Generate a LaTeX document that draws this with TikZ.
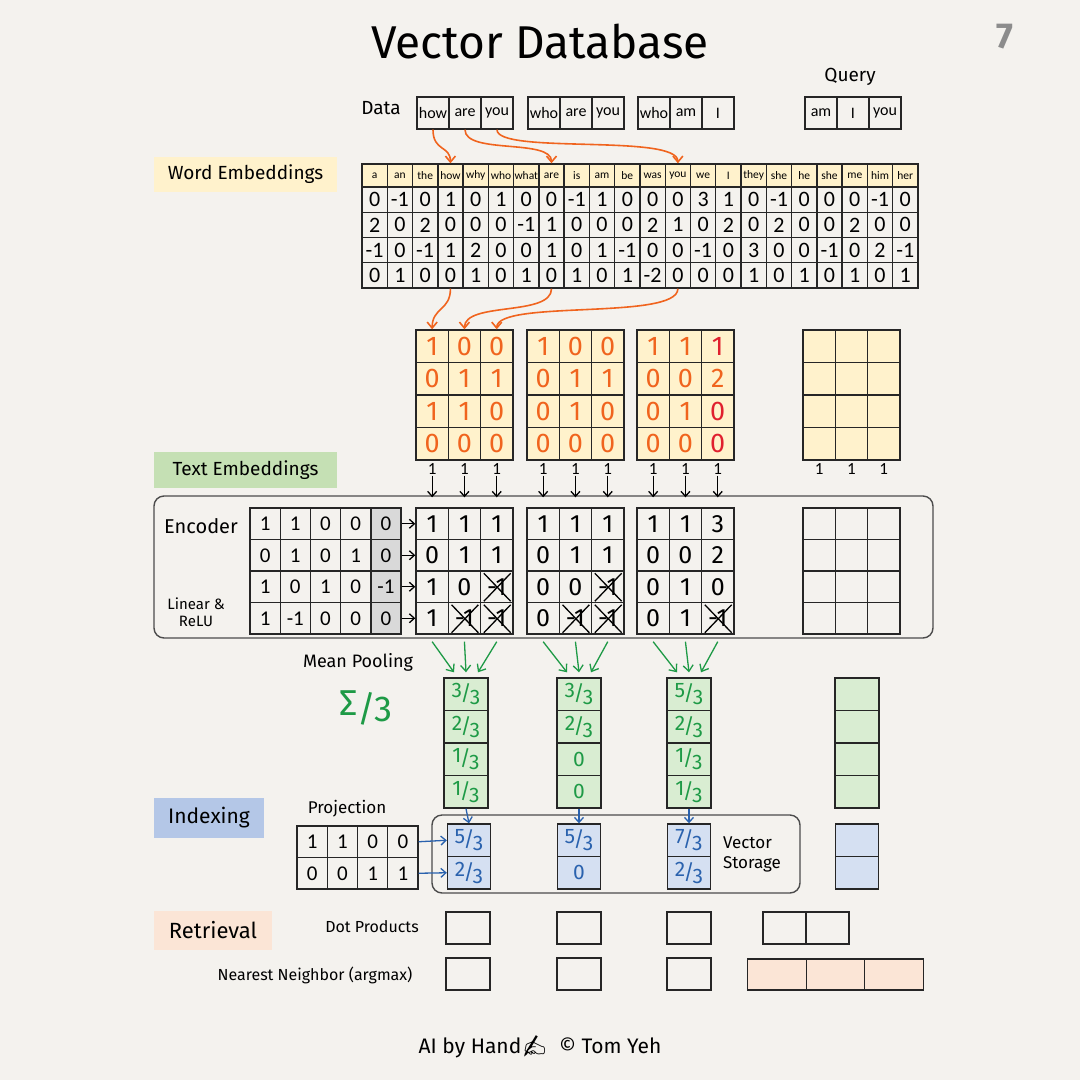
\documentclass[tikz,border=0pt]{standalone}
\usepackage{fontspec}
\setmainfont{Carlito}
\newfontfamily\hand{Fira Sans}
\newfontfamily\emoji{Noto Emoji}
\usetikzlibrary{arrows.meta, positioning, calc}

\definecolor{paper}{HTML}{F4F2EE}
\definecolor{wordyel}{HTML}{FFF2CC}
\definecolor{textgrn}{HTML}{C5E0B4}
\definecolor{poolgrn}{HTML}{D9EDD2}
\definecolor{idxblue}{HTML}{B4C7E7}
\definecolor{vecblue}{HTML}{D5E0F2}
\definecolor{retpeach}{HTML}{FBE5D6}
\definecolor{penorange}{HTML}{F0641E}
\definecolor{pengreen}{HTML}{1E9A46}
\definecolor{penblue}{HTML}{2A62AE}
\definecolor{penred}{HTML}{E0202E}
\definecolor{biasgray}{HTML}{D9D9D9}

\newcommand{\fsz}[1]{\fontsize{#1}{#1}\selectfont}
\newcommand{\hfr}[2]{\raisebox{.3ex}{#1}\kern-.08em/\kern-.08em\raisebox{-.35ex}{#2}}

\begin{document}
\begin{tikzpicture}[
    x=1pt, y=-1pt,
    cell/.style={draw=black!85, line width=1.4pt, inner sep=0pt, anchor=center},
    hcell/.style={cell, fill=wordyel, minimum width=25.27pt, minimum height=23pt, font=\fsz{11.5}},
    wcell/.style={cell, minimum width=25.27pt, minimum height=25.25pt, font=\fsz{22}},
    dcell/.style={cell, minimum width=32pt, minimum height=32pt, font=\fsz{16}},
    tecell/.style={cell, fill=wordyel, minimum width=32.3pt, minimum height=32.5pt, font=\hand\fsz{27}, text=penorange},
    ecell/.style={cell, minimum width=30.2pt, minimum height=31.5pt, font=\fsz{21}},
    ocell/.style={cell, minimum width=32.3pt, minimum height=31.5pt, font=\hand\fsz{25}},
    pcell/.style={cell, fill=poolgrn, minimum width=44pt, minimum height=32.5pt, font=\hand\fsz{21}, text=pengreen},
    qcell/.style={cell, fill=vecblue, minimum width=43pt, minimum height=32.5pt, font=\hand\fsz{21}, text=penblue},
    rcell/.style={cell, minimum width=44pt, minimum height=32pt},
    tag/.style={inner sep=0pt, font=\hand\fsz{19}},
    lbl/.style={inner sep=0pt, font=\hand\fsz{17}},
    groupbox/.style={draw=black!70, line width=1.4pt, rounded corners=10pt, inner sep=0pt},
    xline/.style={line width=1.3pt, black},
    oarrow/.style={-{Straight Barb[length=6pt, width=10pt]}, draw=penorange, line width=1.6pt},
    karrow/.style={-{Straight Barb[length=5pt, width=9pt]}, draw=black, line width=1.3pt},
    garrow/.style={-{Straight Barb[length=6pt, width=10pt]}, draw=pengreen, line width=1.3pt},
    barrow/.style={-{Straight Barb[length=5pt, width=9pt]}, draw=penblue, line width=1.3pt},
]
% paper
\fill[paper] (0,0) rectangle (1080,1080);
\useasboundingbox (0,0) rectangle (1080,1080);

% title
\node[font=\hand\fsz{46}] (title) at (540,42) {Vector Database};
\node[font=\hand\bfseries\fsz{36}, text=black!45] (page) at (1005,37) {7};

% data and query
\node[lbl, font=\hand\fsz{19}] (data) at (381,108) {Data};
\node[lbl, font=\hand\fsz{19}] (query) at (850,77) {Query};
\foreach \gx/\words [count=\g] in {417/{how,are,you}, 528/{who,are,you}, 638/{who,am,I}, 805/{am,I,you}}
  \foreach \w [count=\i] in \words
    \node[dcell] (d\g-\i) at ({\gx+32*(\i-0.5)},113) {\w};

% word embeddings
\node[tag, fill=wordyel, minimum width=183pt, minimum height=35pt] (wordemb) at (245.5,174.5) {Word Embeddings};
\foreach \w [count=\i from 0] in {a,an,the,how,why,who,what,are,is,am,be,was,you,we,I,they,she,he,she,me,him,her}
  \node[hcell] (wh-\i) at ({362+25.27*(\i+0.5)},175.5) {\w};
\foreach \row [count=\r] in {{0,-1,0,1,0,1,0,0,-1,1,0,0,0,3,1,0,-1,0,0,0,-1,0},
                             {2,0,2,0,0,0,-1,1,0,0,0,2,1,0,2,0,2,0,0,2,0,0},
                             {-1,0,-1,1,2,0,0,1,0,1,-1,0,0,-1,0,3,0,0,-1,0,2,-1},
                             {0,1,0,0,1,0,1,0,1,0,1,-2,0,0,0,1,0,1,0,1,0,1}}
  \foreach \v [count=\i from 0] in \row
    \node[wcell] (w\r-\i) at ({362+25.27*(\i+0.5)},{187+25.25*(\r-0.5)}) {\v};

% lookup arrows
\draw[oarrow] (d1-1.south) .. controls +(0,22) and +(0,-18) .. (wh-3.north);
\draw[oarrow] (d1-2.south) .. controls +(0,25) and +(0,-25) .. (wh-7.north);
\draw[oarrow] (d1-3.south) .. controls +(0,25) and +(0,-30) .. (wh-12.north);

% text embeddings
\node[tag, fill=textgrn, minimum width=183pt, minimum height=36pt] (textemb) at (245.5,470) {Text Embeddings};
\foreach \row [count=\r] in {{1,0,0},{0,1,1},{1,1,0},{0,0,0}}
  \foreach \v [count=\c] in \row
    \node[tecell] (te1-\r-\c) at ({416+32.3*(\c-0.5)},{330+32.5*(\r-0.5)}) {\v};
\foreach \row [count=\r] in {{1,0,0},{0,1,1},{0,1,0},{0,0,0}}
  \foreach \v [count=\c] in \row
    \node[tecell] (te2-\r-\c) at ({527+32.3*(\c-0.5)},{330+32.5*(\r-0.5)}) {\v};
\foreach \row [count=\r] in {{1,1,\textcolor{penred}{1}},{0,0,2},{0,1,\textcolor{penred}{0}},{0,0,\textcolor{penred}{0}}}
  \foreach \v [count=\c] in \row
    \node[tecell] (te3-\r-\c) at ({637+32.3*(\c-0.5)},{330+32.5*(\r-0.5)}) {\v};
\foreach \r in {1,...,4}
  \foreach \c in {1,2,3}
    \node[tecell] (te4-\r-\c) at ({803+32.3*(\c-0.5)},{330+32.5*(\r-0.5)}) {};
\foreach \mx [count=\m] in {416,527,637,803}
  \foreach \c in {1,2,3}
    \node[inner sep=1pt, font=\fsz{17}] (one\m-\c) at ({\mx+32.3*(\c-0.5)},469) {1};

\draw[oarrow] (w4-3.south) .. controls +(0,22) and +(0,-22) .. (te1-1-1.north);
\draw[oarrow] (w4-7.south) .. controls +(0,28) and +(0,-28) .. (te1-1-2.north);
\draw[oarrow] (w4-12.south) .. controls +(0,32) and +(0,-30) .. (te1-1-3.north);

% encoder
\node[groupbox, minimum width=779pt, minimum height=142pt] (encoder) at (543.5,567) {};
\node[lbl, font=\hand\fsz{20}] (enclbl) at (201,526) {Encoder};
\node[lbl, font=\hand\fsz{15}, align=center] (relu) at (196,612) {Linear \&\\[2pt]ReLU};
\fill[biasgray] (370.8,508) rectangle (401,634);
\foreach \row [count=\r] in {{1,1,0,0,0},{0,1,0,1,0},{1,0,1,0,-1},{1,-1,0,0,0}}
  \foreach \v [count=\c] in \row
    \node[ecell] (e\r-\c) at ({250+30.2*(\c-0.5)},{508+31.5*(\r-0.5)}) {\v};

\foreach \row [count=\r] in {{1,1,1},{0,1,1},{1,0,-1},{1,-1,-1}}
  \foreach \v [count=\c] in \row
    \node[ocell] (o1-\r-\c) at ({416+32.3*(\c-0.5)},{508+31.5*(\r-0.5)}) {\v};
\foreach \row [count=\r] in {{1,1,1},{0,1,1},{0,0,-1},{0,-1,-1}}
  \foreach \v [count=\c] in \row
    \node[ocell] (o2-\r-\c) at ({527+32.3*(\c-0.5)},{508+31.5*(\r-0.5)}) {\v};
\foreach \row [count=\r] in {{1,1,3},{0,0,2},{0,1,0},{0,1,-1}}
  \foreach \v [count=\c] in \row
    \node[ocell] (o3-\r-\c) at ({637+32.3*(\c-0.5)},{508+31.5*(\r-0.5)}) {\v};
\foreach \r in {1,...,4}
  \foreach \c in {1,2,3}
    \node[ocell] (o4-\r-\c) at ({803+32.3*(\c-0.5)},{508+31.5*(\r-0.5)}) {};

% relu crosses
\foreach \cc in {o1-3-3,o1-4-2,o1-4-3,o2-3-3,o2-4-2,o2-4-3,o3-4-3}
  \draw[xline] ([shift={(4,3)}]\cc.north west) -- ([shift={(-3,-2)}]\cc.south east)
               ([shift={(-3,3)}]\cc.north east) -- ([shift={(4,-2)}]\cc.south west);

\foreach \r in {1,...,4}
  \draw[karrow] (e\r-5.east) -- (o1-\r-1.west);
\foreach \m in {1,2,3}
  \foreach \c in {1,2,3}
    \draw[karrow] (one\m-\c.south) -- ([yshift=10pt]o\m-1-\c.north);

% mean pooling
\node[lbl, font=\hand\fsz{18}] (poollbl) at (358,662) {Mean Pooling};
\node[inner sep=0pt, font=\hand\fsz{36}, text=pengreen] (sigma) at (366,708) {Σ\raisebox{-.35ex}{/3}};
\foreach \vals/\px [count=\m] in {{\hfr{3}{3},\hfr{2}{3},\hfr{1}{3},\hfr{1}{3}}/466,
                                  {\hfr{3}{3},\hfr{2}{3},0,0}/579,
                                  {\hfr{5}{3},\hfr{2}{3},\hfr{1}{3},\hfr{1}{3}}/689}
  \foreach \v [count=\r] in \vals
    \node[pcell] (p\m-\r) at (\px,{678+32.5*(\r-0.5)}) {\v};
\foreach \r in {1,...,4}
  \node[pcell] (p4-\r) at (857,{678+32.5*(\r-0.5)}) {};
\foreach \m in {1,2,3} {
  \draw[garrow] ([yshift=-7pt]o\m-4-1.south) -- ([xshift=-12pt,yshift=5pt]p\m-1.north);
  \draw[garrow] ([yshift=-7pt]o\m-4-2.south) -- ([yshift=5pt]p\m-1.north);
  \draw[garrow] ([yshift=-7pt]o\m-4-3.south) -- ([xshift=12pt,yshift=5pt]p\m-1.north);
}

% indexing
\node[tag, fill=idxblue, minimum width=110pt, minimum height=40pt, font=\hand\fsz{21}] (indexing) at (209,818) {Indexing};
\node[lbl, font=\hand\fsz{17}] (projlbl) at (347,809) {Projection};
\foreach \row [count=\r] in {{1,1,0,0},{0,0,1,1}}
  \foreach \v [count=\c] in \row
    \node[ecell] (pr\r-\c) at ({297+30.25*(\c-0.5)},{826+31.5*(\r-0.5)}) {\v};
\node[groupbox, minimum width=368pt, minimum height=78pt] (storage) at (616,854) {};
\node[lbl, font=\hand\fsz{17}, align=left] (storelbl) at (752,854) {Vector\\[3pt]Storage};
\foreach \vals/\px [count=\m] in {{\hfr{5}{3},\hfr{2}{3}}/469, {\hfr{5}{3},0}/579, {\hfr{7}{3},\hfr{2}{3}}/689}
  \foreach \v [count=\r] in \vals
    \node[qcell] (q\m-\r) at (\px,{824+32.5*(\r-0.5)}) {\v};
\foreach \r in {1,2}
  \node[qcell] (q4-\r) at (857,{824+32.5*(\r-0.5)}) {};
\foreach \r in {1,2}
  \draw[barrow] (pr\r-4.east) -- (q1-\r.west);
\foreach \m in {1,2,3}
  \draw[barrow] (p\m-4.south) -- (q\m-1.north);

% retrieval
\node[tag, fill=retpeach, minimum width=118pt, minimum height=39pt, font=\hand\fsz{22}] (retrieval) at (213,930.5) {Retrieval};
\node[lbl, font=\hand\fsz{16}] (dotlbl) at (372,927) {Dot Products};
\node[lbl, font=\hand\fsz{16}] (nnlbl) at (315,975) {Nearest Neighbor (argmax)};
\foreach \px [count=\m] in {468,579,689} {
  \node[rcell] (dp\m) at (\px,928) {};
  \node[rcell] (nn\m) at (\px,974) {};
}
\node[rcell, minimum width=43pt] (dq1) at (784.5,928) {};
\node[rcell, minimum width=43pt] (dq2) at (827.5,928) {};
\foreach \px [count=\k] in {777,835.5,894}
  \node[rcell, fill=retpeach, minimum width=58.5pt, minimum height=31pt] (nq\k) at (\px,974.5) {};

% footer
\node[font=\hand\fsz{21}] (footer) at (540,1047) {AI by Hand{\emoji ✍}\ \ © Tom Yeh};
\end{tikzpicture}
\end{document}
